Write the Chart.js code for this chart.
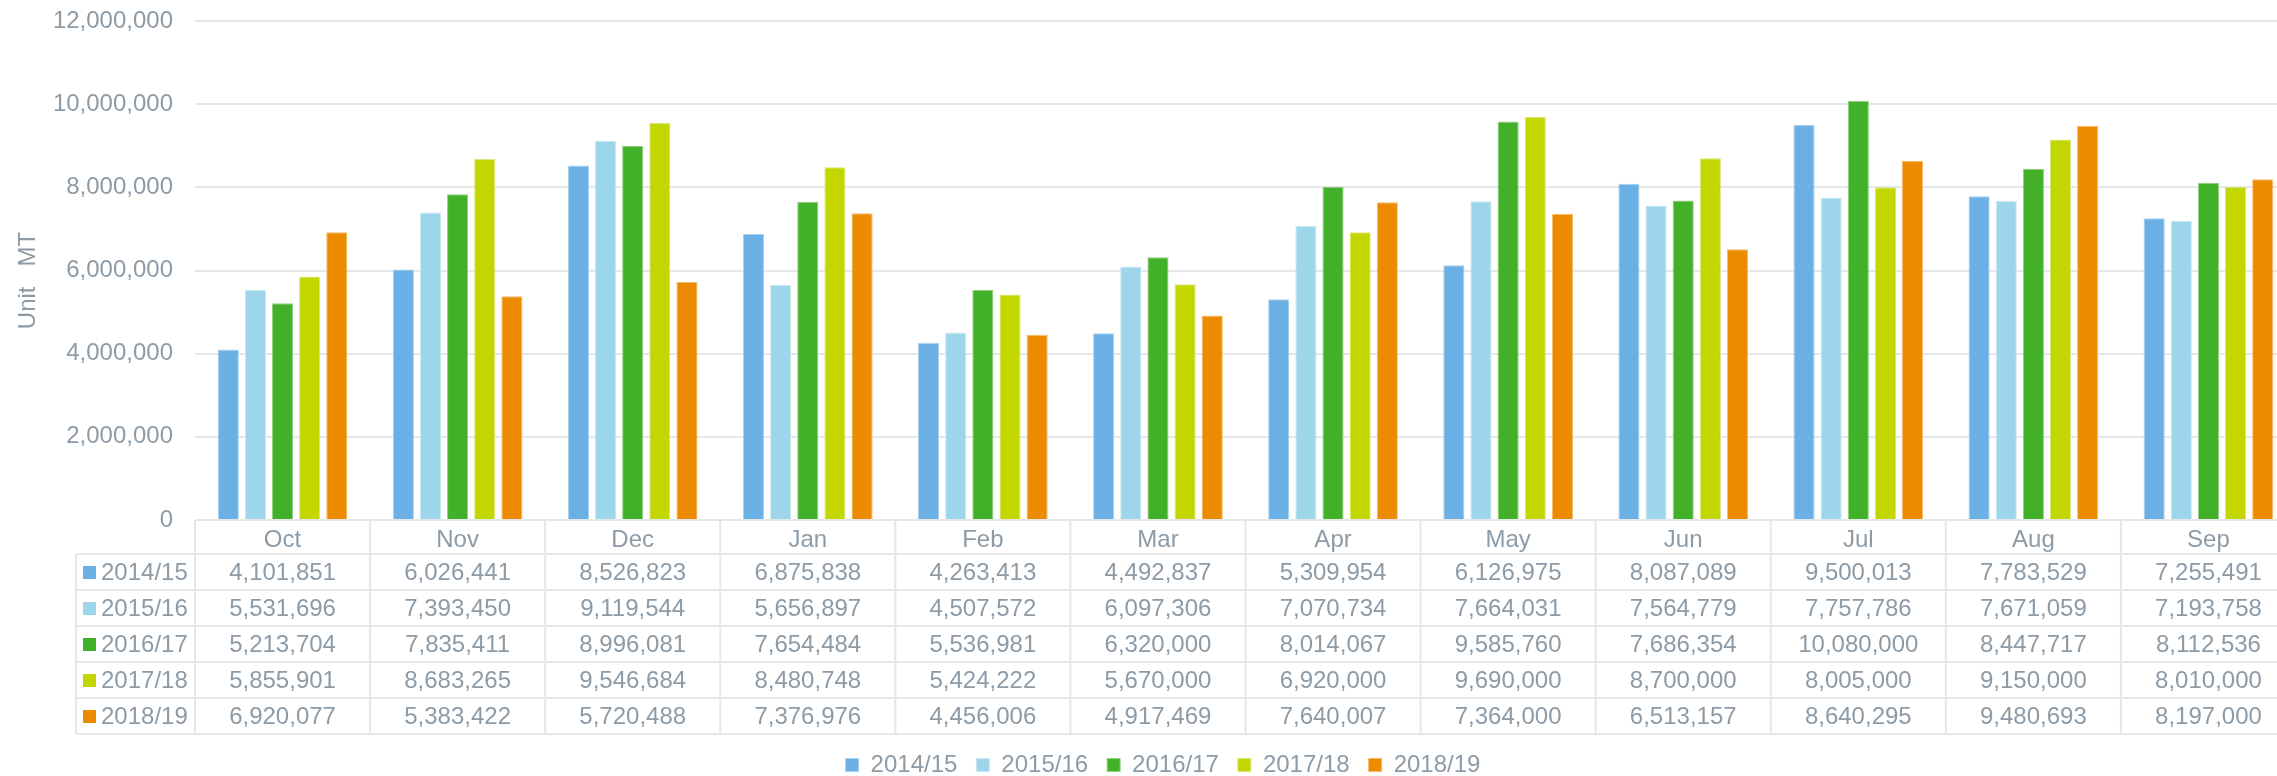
<!DOCTYPE html>
<html>
<head>
<meta charset="utf-8">
<script src="https://cdn.jsdelivr.net/npm/chart.js@4.4.1/dist/chart.umd.min.js"></script>
<style>
  html, body { margin: 0; padding: 0; background: #fff; overflow: hidden; }
  #wrap { width: 2296px; height: 776px; position: relative; }
</style>
</head>
<body>
<div id="wrap"><canvas id="chart"></canvas></div>
<script>
const months = ["Oct", "Nov", "Dec", "Jan", "Feb", "Mar", "Apr", "May", "Jun", "Jul", "Aug", "Sep"];
const seasons = ["2014/15", "2015/16", "2016/17", "2017/18", "2018/19"];

const v1415 = [4101851, 6026441, 8526823, 6875838, 4263413, 4492837, 5309954, 6126975, 8087089, 9500013, 7783529, 7255491];
const v1516 = [5531696, 7393450, 9119544, 5656897, 4507572, 6097306, 7070734, 7664031, 7564779, 7757786, 7671059, 7193758];
const v1617 = [5213704, 7835411, 8996081, 7654484, 5536981, 6320000, 8014067, 9585760, 7686354, 10080000, 8447717, 8112536];
const v1718 = [5855901, 8683265, 9546684, 8480748, 5424222, 5670000, 6920000, 9690000, 8700000, 8005000, 9150000, 8010000];
const v1819 = [6920077, 5383422, 5720488, 7376976, 4456006, 4917469, 7640007, 7364000, 6513157, 8640295, 9480693, 8197000];

const yTicks = [0, 2000000, 4000000, 6000000, 8000000, 10000000, 12000000];

const colors = ["#6ab0e4", "#9dd6ea", "#43b02a", "#c4d600", "#ec8b00"];
const edges = ["#a9d1ef", "#c8e8f3", "#8fd07f", "#dbe77a", "#f5bb6a"];
const textColor = "#8d9ba7";
const lineColor = "#e6e7e8";
const fontFamily = "'Liberation Sans', Arial, sans-serif";

const seriesValues = [v1415, v1516, v1617, v1718, v1819];

// data table under the bars, columns follow the x scale
const dataTable = {
  id: "dataTable",
  afterDraw(chart) {
    const ctx = chart.ctx;
    const area = chart.chartArea;
    const xScale = chart.scales.x;
    const colW = (area.right - area.left) / months.length;
    const headTop = area.bottom;
    const headH = 34, rowH = 36;
    const firstRow = headTop + headH;
    const tableLeft = 76;
    const tableBottom = firstRow + rowH * seasons.length;

    ctx.save();
    ctx.strokeStyle = lineColor;
    ctx.lineWidth = 2;
    ctx.beginPath();
    for (let r = 0; r <= seasons.length; r++) {
      const y = firstRow + r * rowH;
      ctx.moveTo(tableLeft, y);
      ctx.lineTo(area.right, y);
    }
    ctx.moveTo(tableLeft, firstRow);
    ctx.lineTo(tableLeft, tableBottom);
    for (let c = 0; c <= months.length; c++) {
      const x = area.left + c * colW;
      ctx.moveTo(x, headTop);
      ctx.lineTo(x, tableBottom);
    }
    ctx.stroke();

    ctx.font = "24px " + fontFamily;
    ctx.textBaseline = "middle";
    chart.data.datasets.forEach((ds, r) => {
      const cy = firstRow + r * rowH + rowH / 2 + 1;
      ctx.fillStyle = ds.backgroundColor;
      ctx.fillRect(83, cy - 7, 13, 13);
      ctx.fillStyle = textColor;
      ctx.textAlign = "left";
      ctx.fillText(ds.label, 101, cy);
      ctx.textAlign = "center";
      ds.data.forEach((v, i) => {
        ctx.fillText(v.toLocaleString("en-US"), xScale.getPixelForValue(i), cy);
      });
    });
    ctx.restore();
  }
};

const ctx = document.getElementById("chart").getContext("2d");
new Chart(ctx, {
  type: "bar",
  data: {
    labels: months,
    datasets: seasons.map((s, i) => ({
      label: s,
      data: seriesValues[i],
      backgroundColor: colors[i],
      borderColor: edges[i],
      borderWidth: 1,
      borderSkipped: "bottom",
      categoryPercentage: 0.775,
      barPercentage: 0.78
    }))
  },
  options: {
    responsive: true,
    maintainAspectRatio: false,
    animation: false,
    layout: { padding: { top: 21, left: 30, right: 0, bottom: -11 } },
    plugins: {
      tooltip: { enabled: false },
      legend: {
        position: "bottom",
        labels: {
          boxWidth: 13,
          boxHeight: 13,
          padding: 19,
          color: textColor,
          font: { family: fontFamily, size: 24 }
        }
      }
    },
    scales: {
      x: {
        offset: true,
        grid: { display: false },
        border: { display: false },
        ticks: { color: textColor, padding: -2, font: { family: fontFamily, size: 24 } },
        afterFit(axis) { axis.height = 214; }
      },
      y: {
        min: 0,
        max: 12000000,
        afterBuildTicks(axis) { axis.ticks = yTicks.map(v => ({ value: v })); },
        grid: { color: lineColor, lineWidth: 2, drawTicks: true, tickLength: 22, tickColor: "rgba(0,0,0,0)" },
        border: { display: false },
        ticks: {
          color: textColor,
          padding: 0,
          font: { family: fontFamily, size: 24 },
          callback: v => v.toLocaleString("en-US")
        },
        title: {
          display: true,
          text: "Unit   MT   ",
          color: textColor,
          padding: { top: -16, bottom: 0 },
          font: { family: fontFamily, size: 24 }
        },
        afterFit(axis) { axis.width = 165; }
      }
    }
  },
  plugins: [dataTable]
});
</script>
</body>
</html>
